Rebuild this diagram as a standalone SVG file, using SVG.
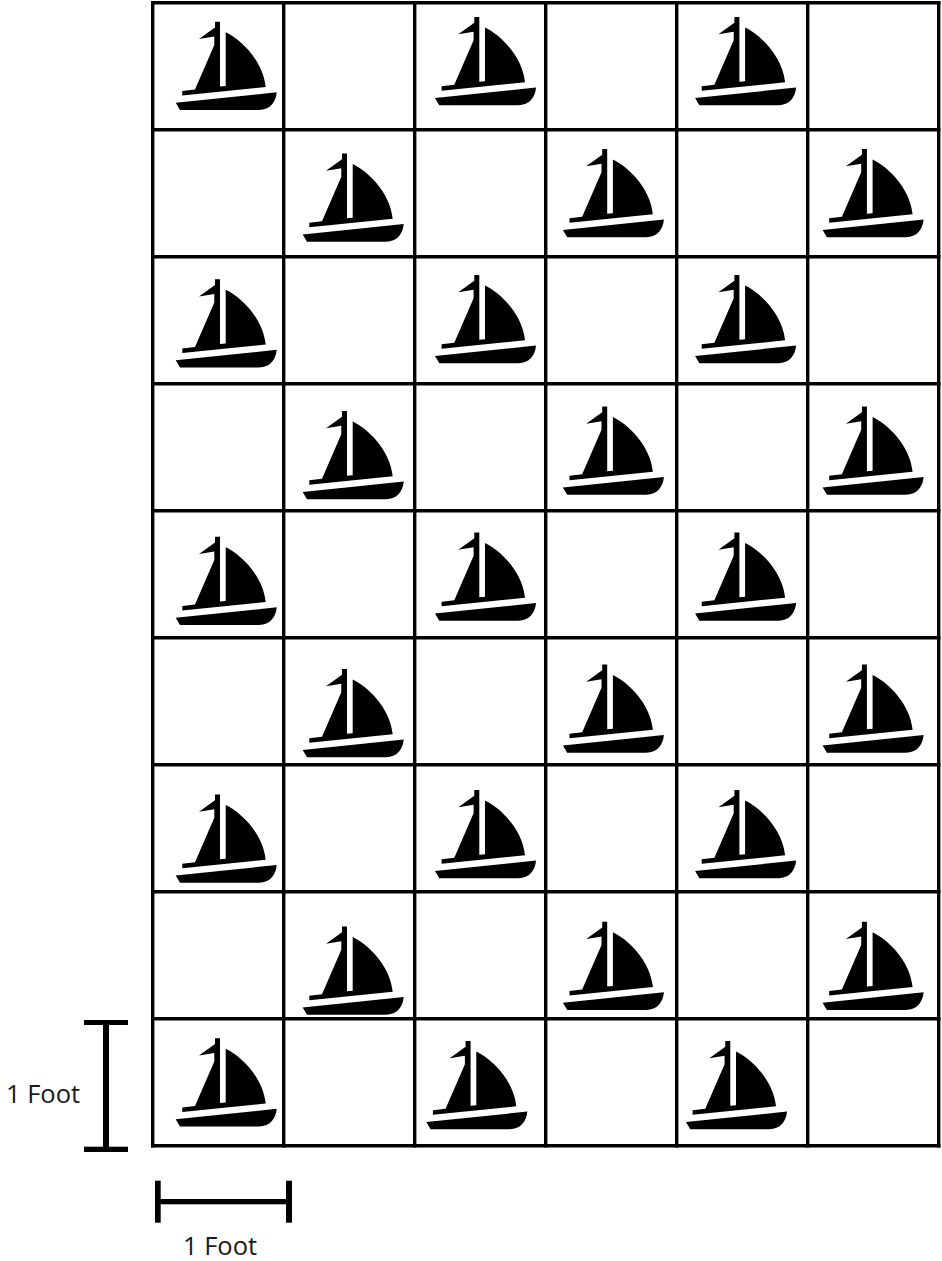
<svg xmlns="http://www.w3.org/2000/svg" width="942" height="1261" viewBox="0 0 942 1261">
<style>
.g{stroke:#000;stroke-width:3.4;fill:none;stroke-linecap:square}
.t{font-family:"Open Sans","Liberation Sans",sans-serif;font-size:25.5px;fill:#1a1a1a}
.b{fill:#000}
</style>
<defs>
<g id="boat">
<path d="M215,21.7 L220,21.7 L220,86.5 L225.7,86 L225.7,32.3 C240,39 263,60 265.7,87 L182.3,95.5 L182.3,91 L195,89.5 L214.3,45 L214.3,36.5 L199,39 L215,27.5 Z"/>
<path d="M175.7,102.7 L276.7,92.3 C276,102 270,110 259,110 L180,110 Z"/>
</g>
</defs>
<rect width="942" height="1261" fill="#fff"/>
<g id="grid" class="g">
<path d="M152.7,2.7H938.7M152.7,129.7H938.7M152.7,256.7H938.7M152.7,383.7H938.7M152.7,510.7H938.7M152.7,637.7H938.7M152.7,764.7H938.7M152.7,891.7H938.7M152.7,1018.7H938.7M152.7,1145.7H938.7"/>
<path d="M152.7,2.7V1145.7M283.7,2.7V1145.7M414.7,2.7V1145.7M545.7,2.7V1145.7M676.7,2.7V1145.7M807.7,2.7V1145.7M938.7,2.7V1145.7"/>
</g>
<g id="boats" class="b">
<use href="#boat" id="boat-r1c1" x="0" y="0"/>
<use href="#boat" id="boat-r1c3" x="259.3" y="-4.7"/>
<use href="#boat" id="boat-r1c5" x="519.4" y="-4.7"/>
<use href="#boat" id="boat-r2c2" x="127" y="131.7"/>
<use href="#boat" id="boat-r2c4" x="387.2" y="127.3"/>
<use href="#boat" id="boat-r2c6" x="646.9" y="127.3"/>
<use href="#boat" id="boat-r3c1" x="0" y="257.5"/>
<use href="#boat" id="boat-r3c3" x="259.3" y="253.3"/>
<use href="#boat" id="boat-r3c5" x="519.4" y="253.3"/>
<use href="#boat" id="boat-r4c2" x="127" y="389.3"/>
<use href="#boat" id="boat-r4c4" x="387.2" y="384.7"/>
<use href="#boat" id="boat-r4c6" x="646.9" y="384.7"/>
<use href="#boat" id="boat-r5c1" x="0" y="515"/>
<use href="#boat" id="boat-r5c3" x="259.3" y="510.7"/>
<use href="#boat" id="boat-r5c5" x="519.4" y="510.7"/>
<use href="#boat" id="boat-r6c2" x="127" y="647.3"/>
<use href="#boat" id="boat-r6c4" x="387.2" y="642.7"/>
<use href="#boat" id="boat-r6c6" x="646.9" y="642.7"/>
<use href="#boat" id="boat-r7c1" x="0" y="772.7"/>
<use href="#boat" id="boat-r7c3" x="259.3" y="768.3"/>
<use href="#boat" id="boat-r7c5" x="519.4" y="768.3"/>
<use href="#boat" id="boat-r8c2" x="127" y="904.7"/>
<use href="#boat" id="boat-r8c4" x="387.2" y="900"/>
<use href="#boat" id="boat-r8c6" x="646.9" y="900"/>
<use href="#boat" id="boat-r9c1" x="0" y="1016.5"/>
<use href="#boat" id="boat-r9c3" x="250.6" y="1019.3"/>
<use href="#boat" id="boat-r9c5" x="510.3" y="1019.3"/>
</g>
<g id="scale-vertical" class="b">
<rect x="84" y="1020" width="44" height="5"/>
<rect x="103" y="1022" width="6" height="128"/>
<rect x="84" y="1146.7" width="44" height="5.3"/>
<text class="t" x="6" y="1102.7">1 Foot</text>
</g>
<g id="scale-horizontal" class="b">
<rect x="155" y="1180.7" width="5.7" height="42"/>
<rect x="286" y="1180.7" width="6" height="42"/>
<rect x="157" y="1199" width="132" height="5.3"/>
<text class="t" x="183" y="1255">1 Foot</text>
</g>
</svg>
